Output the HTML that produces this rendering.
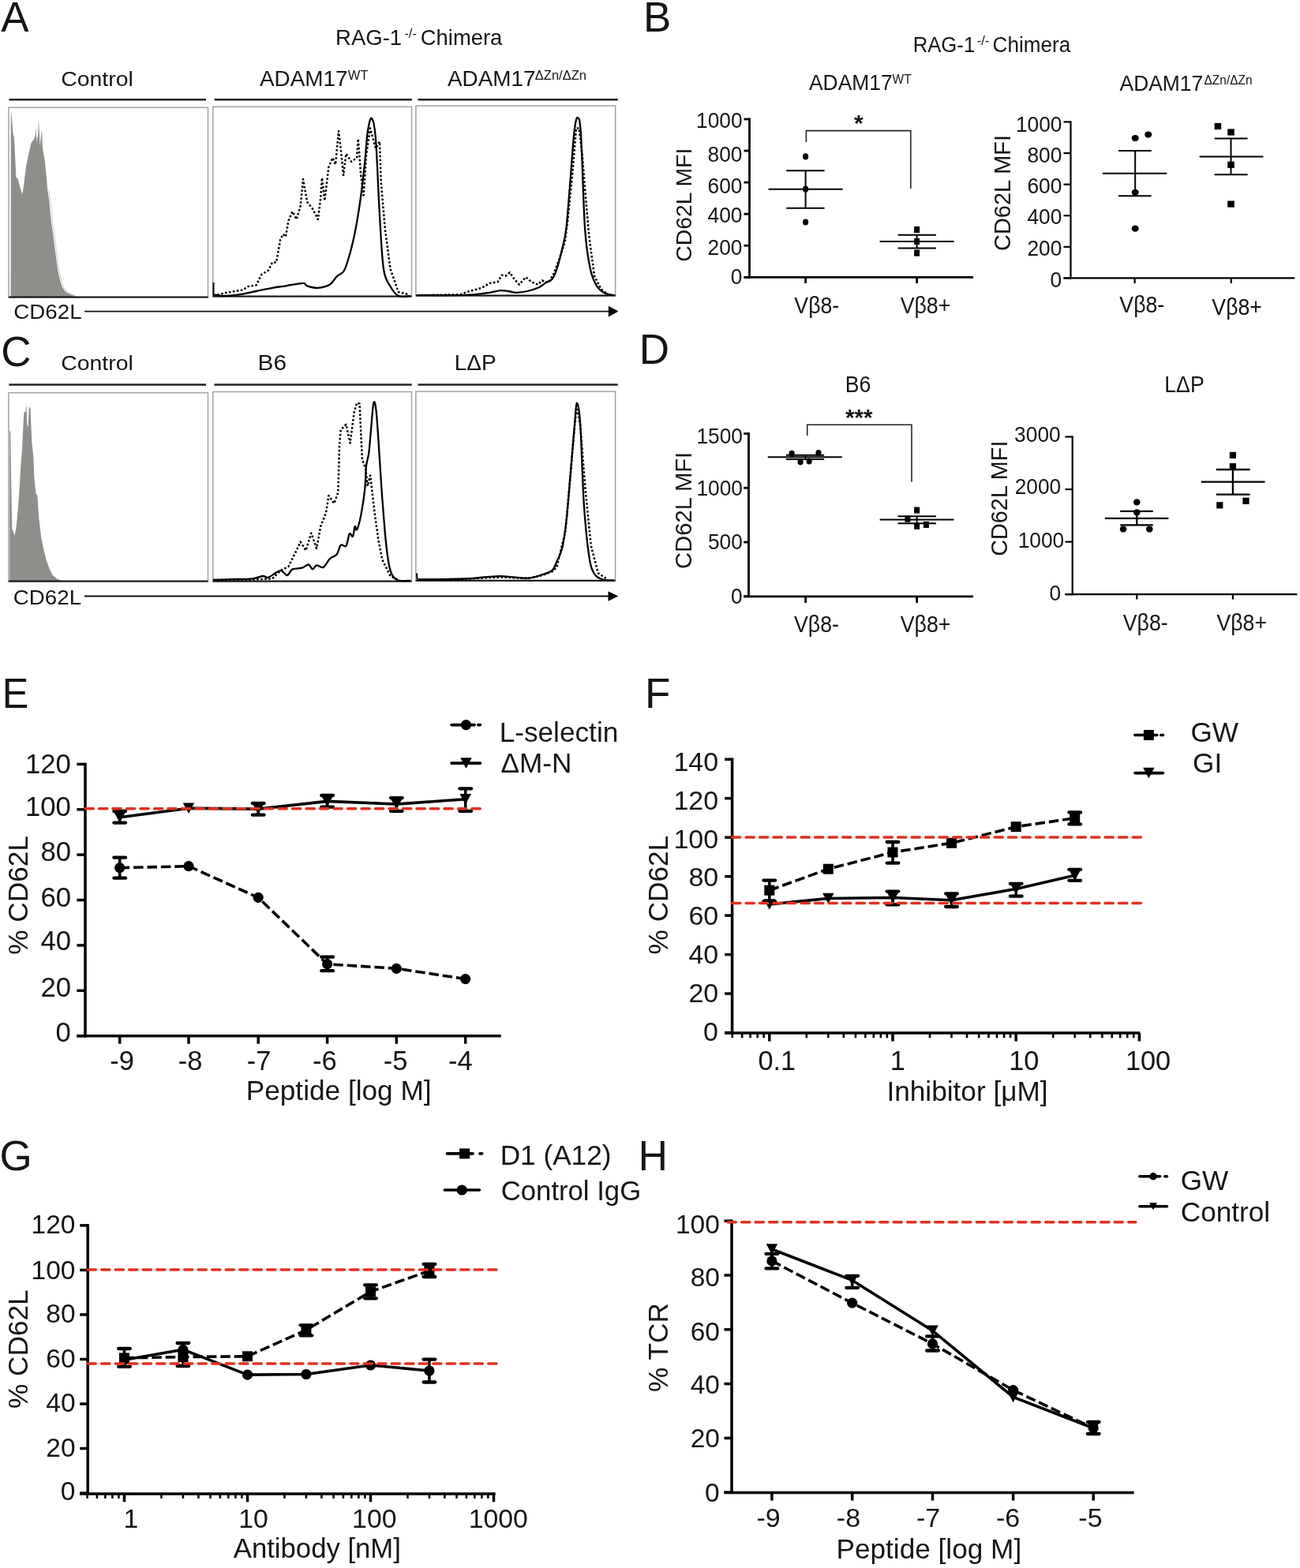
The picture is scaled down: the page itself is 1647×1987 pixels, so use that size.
<!DOCTYPE html>
<html><head><meta charset="utf-8"><title>Figure</title>
<style>html,body{margin:0;padding:0;background:#fff;}svg{display:block;}</style></head>
<body><svg width="1647" height="1987" viewBox="0 0 1647 1987" font-family="'Liberation Sans', Arial, sans-serif">
<rect width="1647" height="1987" fill="#fff"/>
<line x1="11.40" y1="126.20" x2="261.00" y2="126.20" stroke="#222" stroke-width="2.4" />
<line x1="271.70" y1="126.20" x2="521.70" y2="126.20" stroke="#222" stroke-width="2.4" />
<line x1="529.50" y1="126.20" x2="782.80" y2="126.20" stroke="#222" stroke-width="2.4" />
<line x1="11.40" y1="487.50" x2="261.00" y2="487.50" stroke="#222" stroke-width="2.4" />
<line x1="271.50" y1="487.50" x2="521.70" y2="487.50" stroke="#222" stroke-width="2.4" />
<line x1="529.50" y1="487.50" x2="782.80" y2="487.50" stroke="#222" stroke-width="2.4" />
<polygon points="13.6,377 13.8,150 14.3,141 16.5,169 17.9,174.5 20.5,224.9 22.5,226 25,236 28.3,246.5 30.3,233.4 32.9,211.8 36.2,195.4 39.5,181 42.7,177 44.6,172 45.3,161.4 46.5,180 48.2,170 48.9,150.3 50.0,172 50.6,185.6 52.5,168 53.2,166.6 53.8,185.6 55.8,198.7 56.6,202 58.7,222 60.2,240.4 62.1,252 64.0,271.2 65.3,284 67.3,296.9 69.2,312.3 71.1,326.4 73.0,340.5 75.0,350.8 76.9,358.5 79.5,364.9 83.3,370 88.4,372.6 93.6,374.5 96,376.8" fill="#8d8f8b"/>
<polyline points="61.8,240.4 63.7,252 65.6,271.2 66.9,284 68.9,296.9 70.8,312.3 72.7,326.4 74.6,340.5 76.6,350.8 78.5,358.5 81.1,364.9 84.9,370 90.0,372.6 95.2,374.5 97.6,376.8" fill="none" stroke="#d2d2d2" stroke-width="1.1"/>
<polygon points="12.1,737 12.1,546.5 13.3,546.5 14.0,600 15.3,669.7 18.5,678.7 20.4,669.7 22.3,650.5 24.3,624.8 26.2,592.7 28.1,567 30,528.5 30.7,522 32.6,522 33.5,511.2 34.5,541.3 35.8,538.8 36.8,515.7 38.6,517 40.3,560.6 42.2,577.3 43.5,605.5 45.4,624.8 47.4,628.6 49.3,656.9 52.5,682.6 55.7,698 58.9,710.8 62.8,721 66.6,728.8 71.8,733.3 76.9,735.5 78,737" fill="#8d8f8b"/>
<rect x="11.00" y="136.20" width="252.50" height="240.80" fill="none" stroke="#a3a3a3" stroke-width="1.5"/>
<line x1="11.00" y1="376.50" x2="263.50" y2="376.50" stroke="#111" stroke-width="2.0" />
<rect x="269.70" y="135.30" width="251.80" height="240.60" fill="none" stroke="#a3a3a3" stroke-width="1.5"/>
<line x1="269.70" y1="375.40" x2="521.50" y2="375.40" stroke="#111" stroke-width="2.0" />
<rect x="526.90" y="134.10" width="252.80" height="240.90" fill="none" stroke="#a3a3a3" stroke-width="1.5"/>
<line x1="526.90" y1="374.60" x2="779.70" y2="374.60" stroke="#111" stroke-width="2.0" />
<rect x="10.90" y="497.70" width="252.60" height="239.30" fill="none" stroke="#a3a3a3" stroke-width="1.5"/>
<line x1="10.90" y1="736.50" x2="263.50" y2="736.50" stroke="#111" stroke-width="2.0" />
<rect x="269.70" y="496.50" width="251.80" height="240.50" fill="none" stroke="#a3a3a3" stroke-width="1.5"/>
<line x1="269.70" y1="736.50" x2="521.50" y2="736.50" stroke="#111" stroke-width="2.0" />
<rect x="526.80" y="496.10" width="252.80" height="240.10" fill="none" stroke="#a3a3a3" stroke-width="1.5"/>
<line x1="526.80" y1="735.80" x2="779.60" y2="735.80" stroke="#111" stroke-width="2.0" />
<polyline points="270.50,375.00 287.00,370.80 307.60,367.40 314.40,363.00 324.60,361.40 331.40,347.80 340.00,342.70 345.00,332.50 350.00,332.50 355.20,303.60 358.60,296.80 362.00,300.00 365.40,279.80 370.50,268.00 375.60,278.00 380.70,261.00 384.00,227.00 389.20,256.00 396.00,264.50 402.80,278.00 406.20,251.00 408.00,225.40 411.30,254.30 416.40,211.80 421.50,200.00 425.00,208.40 429.00,166.00 431.70,188.00 435.10,222.00 438.50,194.80 445.30,205.00 452.00,200.00 453.80,176.00 457.20,222.00 460.60,247.50 464.00,196.50 469.00,162.50 476.00,188.00 481.00,179.50 482.70,230.50 487.80,290.00 494.60,341.00 504.80,370.00 518.40,373.30" fill="none" stroke="#000" stroke-width="2.5" stroke-linejoin="round" stroke-dasharray="2.6 2.4"/>
<line x1="270.50" y1="358.00" x2="270.50" y2="374.00" stroke="#000" stroke-width="2.0" />
<path d="M270.50,373.30 C272.42,373.58 276.67,375.00 282.00,375.00 C287.33,375.00 295.40,374.30 302.50,373.30 C309.60,372.30 317.52,370.42 324.60,369.00 C331.68,367.58 338.77,365.92 345.00,364.80 C351.23,363.68 355.50,363.28 362.00,362.30 C368.50,361.32 379.50,358.90 384.00,358.90 C388.50,358.90 385.87,361.32 389.00,362.30 C392.13,363.28 397.97,365.08 402.80,364.80 C407.63,364.52 414.03,363.00 418.00,360.60 C421.97,358.20 423.77,353.10 426.60,350.40 C429.43,347.70 432.77,347.38 435.00,344.40 C437.23,341.42 438.00,338.73 440.00,332.50 C442.00,326.27 444.83,316.35 447.00,307.00 C449.17,297.65 451.17,287.17 453.00,276.40 C454.83,265.63 456.45,254.30 458.00,242.40 C459.55,230.50 461.02,217.47 462.30,205.00 C463.58,192.53 464.28,176.80 465.70,167.60 C467.12,158.40 469.08,148.40 470.80,149.80 C472.52,151.20 474.30,155.47 476.00,176.00 C477.70,196.53 479.33,245.50 481.00,273.00 C482.67,300.50 483.73,326.00 486.00,341.00 C488.27,356.00 491.47,357.33 494.60,363.00 C497.73,368.67 500.57,373.00 504.80,375.00 C509.03,377.00 517.47,375.00 520.00,375.00" fill="none" stroke="#000" stroke-width="2.3" stroke-linejoin="round" />
<polyline points="527.80,374.20 583.00,373.30 591.50,370.00 610.20,364.80 620.40,358.90 630.60,357.20 635.70,348.70 640.80,349.50 645.90,345.30 651.00,352.90 657.80,360.60 666.30,351.20 673.10,357.20 681.60,360.60 686.70,355.50 695.20,358.00 702.00,346.00 708.80,327.40 715.60,307.00 719.00,281.50 725.80,213.50 730.00,162.50 733.50,162.50 737.70,196.50 741.10,239.00 746.20,298.50 753.00,349.50 761.50,366.50 770.00,373.30" fill="none" stroke="#000" stroke-width="2.5" stroke-linejoin="round" stroke-dasharray="2.6 2.4"/>
<path d="M527.80,374.20 C535.58,374.20 562.47,374.35 574.50,374.20 C586.53,374.05 592.35,373.87 600.00,373.30 C607.65,372.73 614.73,371.65 620.40,370.80 C626.07,369.95 630.03,368.50 634.00,368.20 C637.97,367.90 640.80,368.57 644.20,369.00 C647.60,369.43 650.43,370.80 654.40,370.80 C658.37,370.80 663.18,370.13 668.00,369.00 C672.82,367.87 679.33,365.83 683.30,364.00 C687.27,362.17 689.10,359.70 691.80,358.00 C694.50,356.30 697.23,356.63 699.50,353.80 C701.77,350.97 703.28,347.38 705.40,341.00 C707.52,334.62 710.22,324.00 712.20,315.50 C714.18,307.00 715.60,304.17 717.30,290.00 C719.00,275.83 720.70,250.90 722.40,230.50 C724.10,210.10 725.93,181.18 727.50,167.60 C729.07,154.02 730.38,148.43 731.80,149.00 C733.22,149.57 734.45,147.50 736.00,171.00 C737.55,194.50 739.12,261.67 741.10,290.00 C743.08,318.33 745.35,328.83 747.90,341.00 C750.45,353.17 753.28,357.90 756.40,363.00 C759.52,368.10 762.92,369.73 766.60,371.60 C770.28,373.47 776.52,373.77 778.50,374.20" fill="none" stroke="#000" stroke-width="2.3" stroke-linejoin="round" />
<polyline points="270.20,735.00 311.00,735.00 345.00,733.30 355.20,723.10 365.40,718.00 375.60,697.60 380.70,686.60 387.50,697.60 394.30,675.50 401.10,695.00 406.20,667.00 413.00,650.00 416.40,628.00 423.20,638.00 428.30,624.50 430.00,565.00 431.70,544.60 438.50,537.80 443.60,561.60 448.70,522.50 452.10,510.60 455.50,511.50 458.90,582.00 463.20,594.00 465.70,616.00 469.10,602.40 474.20,646.60 479.30,684.00 484.40,709.50 494.60,730.00 504.80,735.00" fill="none" stroke="#000" stroke-width="2.5" stroke-linejoin="round" stroke-dasharray="2.6 2.4"/>
<path d="M270.20,735.00 C273.60,734.87 282.38,734.48 290.60,734.20 C298.82,733.92 312.42,734.00 319.50,733.30 C326.58,732.60 329.70,730.28 333.10,730.00 C336.50,729.72 336.22,732.75 339.90,731.60 C343.58,730.45 351.23,723.52 355.20,723.10 C359.17,722.68 361.15,729.38 363.70,729.10 C366.25,728.82 367.38,722.97 370.50,721.40 C373.62,719.83 379.00,720.68 382.40,719.70 C385.80,718.72 388.63,715.22 390.90,715.50 C393.17,715.78 394.30,721.27 396.00,721.40 C397.70,721.53 398.83,716.72 401.10,716.30 C403.37,715.88 406.77,720.32 409.60,718.90 C412.43,717.48 415.27,710.50 418.10,707.80 C420.93,705.10 424.33,705.53 426.60,702.70 C428.87,699.87 429.72,692.63 431.70,690.80 C433.68,688.97 436.65,694.10 438.50,691.70 C440.35,689.30 441.38,678.38 442.80,676.40 C444.22,674.42 445.87,681.37 447.00,679.80 C448.13,678.23 448.75,668.42 449.60,667.00 C450.45,665.58 450.83,673.57 452.10,671.30 C453.37,669.03 455.50,662.05 457.20,653.40 C458.90,644.75 461.17,629.88 462.30,619.40 C463.43,608.92 463.15,598.15 464.00,590.50 C464.85,582.85 466.40,581.15 467.40,573.50 C468.40,565.85 469.00,555.08 470.00,544.60 C471.00,534.12 472.27,514.28 473.40,510.60 C474.53,506.92 475.53,510.60 476.80,522.50 C478.07,534.40 479.73,563.58 481.00,582.00 C482.27,600.42 482.98,614.58 484.40,633.00 C485.82,651.42 487.80,677.48 489.50,692.50 C491.20,707.52 492.33,716.02 494.60,723.10 C496.87,730.18 498.85,732.87 503.10,735.00 C507.35,737.13 517.27,735.75 520.10,735.90" fill="none" stroke="#000" stroke-width="2.3" stroke-linejoin="round" />
<polyline points="529.50,734.40 587.50,734.00 620.10,732.00 638.20,731.50 669.00,733.00 687.20,729.00 699.90,724.00 705.30,719.00 716.20,673.70 723.40,595.00 728.00,540.00 731.00,514.00 735.20,540.00 741.50,619.30 748.80,691.80 757.80,726.30 770.00,734.40" fill="none" stroke="#000" stroke-width="2.5" stroke-linejoin="round" stroke-dasharray="2.6 2.4"/>
<line x1="527.90" y1="726.30" x2="528.60" y2="734.40" stroke="#000" stroke-width="2.0" />
<path d="M529.50,734.40 C539.17,734.25 572.40,734.10 587.50,733.50 C602.60,732.90 611.65,731.33 620.10,730.80 C628.55,730.27 630.05,730.00 638.20,730.30 C646.35,730.60 660.83,732.97 669.00,732.60 C677.17,732.23 682.05,729.77 687.20,728.10 C692.35,726.43 696.88,725.32 699.90,722.60 C702.92,719.88 703.20,716.63 705.30,711.80 C707.40,706.97 710.38,702.97 712.50,693.60 C714.62,684.23 716.18,672.50 718.00,655.60 C719.82,638.70 721.73,611.83 723.40,592.20 C725.07,572.57 726.73,551.40 728.00,537.80 C729.27,524.20 729.80,510.60 731.00,510.60 C732.20,510.60 733.75,516.65 735.20,537.80 C736.65,558.95 737.90,610.02 739.70,637.50 C741.50,664.98 743.88,687.90 746.00,702.70 C748.12,717.50 749.52,721.02 752.40,726.30 C755.28,731.58 759.07,732.90 763.30,734.40 C767.53,735.90 775.38,735.15 777.80,735.30" fill="none" stroke="#000" stroke-width="2.3" stroke-linejoin="round" />
<line x1="107.00" y1="394.60" x2="772.00" y2="394.60" stroke="#111" stroke-width="1.8" />
<polygon points="770.9,387.8 783.6,394.6 770.9,401.4" fill="#000"/>
<line x1="107.00" y1="755.50" x2="771.50" y2="755.50" stroke="#111" stroke-width="1.8" />
<polygon points="770.5,749.2 783.2,755.5 770.5,761.8" fill="#000"/>
<line x1="949.50" y1="149.60" x2="949.50" y2="352.70" stroke="#000" stroke-width="2.8" />
<line x1="942.50" y1="351.30" x2="1233.00" y2="351.30" stroke="#000" stroke-width="2.8" />
<line x1="942.50" y1="351.30" x2="949.50" y2="351.30" stroke="#000" stroke-width="2.8" />
<line x1="942.50" y1="311.24" x2="949.50" y2="311.24" stroke="#000" stroke-width="2.8" />
<line x1="942.50" y1="271.18" x2="949.50" y2="271.18" stroke="#000" stroke-width="2.8" />
<line x1="942.50" y1="231.12" x2="949.50" y2="231.12" stroke="#000" stroke-width="2.8" />
<line x1="942.50" y1="191.06" x2="949.50" y2="191.06" stroke="#000" stroke-width="2.8" />
<line x1="942.50" y1="151.00" x2="949.50" y2="151.00" stroke="#000" stroke-width="2.8" />
<line x1="1020.60" y1="351.30" x2="1020.60" y2="359.00" stroke="#000" stroke-width="2.8" />
<line x1="1161.60" y1="351.30" x2="1161.60" y2="359.00" stroke="#000" stroke-width="2.8" />
<ellipse cx="1020.60" cy="198.40" rx="3.6" ry="4.1" fill="#000"/>
<ellipse cx="1020.60" cy="239.70" rx="3.6" ry="4.1" fill="#000"/>
<ellipse cx="1020.60" cy="281.50" rx="3.6" ry="4.1" fill="#000"/>
<line x1="973.60" y1="239.70" x2="1067.60" y2="239.70" stroke="#000" stroke-width="2.0" />
<line x1="996.30" y1="216.20" x2="1044.60" y2="216.20" stroke="#000" stroke-width="2.0" />
<line x1="996.30" y1="263.70" x2="1044.60" y2="263.70" stroke="#000" stroke-width="2.0" />
<line x1="1020.60" y1="216.20" x2="1020.60" y2="263.70" stroke="#000" stroke-width="2.0" />
<rect x="1158.10" y="286.90" width="7.0" height="8.2" fill="#000"/>
<rect x="1158.10" y="301.90" width="7.0" height="8.2" fill="#000"/>
<rect x="1158.10" y="316.50" width="7.0" height="8.2" fill="#000"/>
<line x1="1114.60" y1="306.00" x2="1208.60" y2="306.00" stroke="#000" stroke-width="2.0" />
<line x1="1137.60" y1="297.70" x2="1185.90" y2="297.70" stroke="#000" stroke-width="2.0" />
<line x1="1137.60" y1="314.60" x2="1185.90" y2="314.60" stroke="#000" stroke-width="2.0" />
<line x1="1161.60" y1="297.70" x2="1161.60" y2="314.60" stroke="#000" stroke-width="2.0" />
<polyline points="1021.40,180.00 1021.40,165.60 1153.80,165.60 1153.80,239.00" fill="none" stroke="#222" stroke-width="1.6" stroke-linejoin="round" />
<line x1="1356.50" y1="153.40" x2="1356.50" y2="353.50" stroke="#000" stroke-width="2.2" />
<line x1="1347.50" y1="352.40" x2="1640.30" y2="352.40" stroke="#000" stroke-width="2.2" />
<line x1="1347.50" y1="352.40" x2="1356.50" y2="352.40" stroke="#000" stroke-width="2.2" />
<line x1="1347.50" y1="312.82" x2="1356.50" y2="312.82" stroke="#000" stroke-width="2.2" />
<line x1="1347.50" y1="273.24" x2="1356.50" y2="273.24" stroke="#000" stroke-width="2.2" />
<line x1="1347.50" y1="233.66" x2="1356.50" y2="233.66" stroke="#000" stroke-width="2.2" />
<line x1="1347.50" y1="194.08" x2="1356.50" y2="194.08" stroke="#000" stroke-width="2.2" />
<line x1="1347.50" y1="154.50" x2="1356.50" y2="154.50" stroke="#000" stroke-width="2.2" />
<line x1="1437.60" y1="352.40" x2="1437.60" y2="359.00" stroke="#000" stroke-width="2.2" />
<line x1="1559.80" y1="352.40" x2="1559.80" y2="359.00" stroke="#000" stroke-width="2.2" />
<ellipse cx="1438.20" cy="175.00" rx="4.5" ry="4.1" fill="#000"/>
<ellipse cx="1454.80" cy="170.50" rx="4.5" ry="4.1" fill="#000"/>
<ellipse cx="1438.20" cy="243.80" rx="4.5" ry="4.1" fill="#000"/>
<ellipse cx="1438.20" cy="289.70" rx="4.5" ry="4.1" fill="#000"/>
<line x1="1396.80" y1="219.70" x2="1478.30" y2="219.70" stroke="#000" stroke-width="2.0" />
<line x1="1417.00" y1="191.00" x2="1458.70" y2="191.00" stroke="#000" stroke-width="2.0" />
<line x1="1417.00" y1="248.30" x2="1458.70" y2="248.30" stroke="#000" stroke-width="2.0" />
<line x1="1438.20" y1="191.00" x2="1438.20" y2="248.30" stroke="#000" stroke-width="2.0" />
<rect x="1538.60" y="155.90" width="8.6" height="8.2" fill="#000"/>
<rect x="1555.20" y="163.40" width="8.6" height="8.2" fill="#000"/>
<rect x="1555.20" y="204.70" width="8.6" height="8.2" fill="#000"/>
<rect x="1555.20" y="254.50" width="8.6" height="8.2" fill="#000"/>
<line x1="1519.60" y1="198.50" x2="1600.50" y2="198.50" stroke="#000" stroke-width="2.0" />
<line x1="1538.70" y1="175.60" x2="1580.60" y2="175.60" stroke="#000" stroke-width="2.0" />
<line x1="1538.70" y1="221.20" x2="1580.60" y2="221.20" stroke="#000" stroke-width="2.0" />
<line x1="1559.50" y1="175.60" x2="1559.50" y2="221.20" stroke="#000" stroke-width="2.0" />
<line x1="948.50" y1="548.10" x2="948.50" y2="757.20" stroke="#000" stroke-width="2.8" />
<line x1="942.20" y1="755.80" x2="1233.00" y2="755.80" stroke="#000" stroke-width="2.8" />
<line x1="942.20" y1="755.80" x2="948.50" y2="755.80" stroke="#000" stroke-width="2.8" />
<line x1="942.20" y1="687.03" x2="948.50" y2="687.03" stroke="#000" stroke-width="2.8" />
<line x1="942.20" y1="618.27" x2="948.50" y2="618.27" stroke="#000" stroke-width="2.8" />
<line x1="942.20" y1="549.50" x2="948.50" y2="549.50" stroke="#000" stroke-width="2.8" />
<line x1="1020.60" y1="755.80" x2="1020.60" y2="764.00" stroke="#000" stroke-width="2.8" />
<line x1="1161.60" y1="755.80" x2="1161.60" y2="764.00" stroke="#000" stroke-width="2.8" />
<ellipse cx="1003.10" cy="574.80" rx="3.6" ry="4.1" fill="#000"/>
<ellipse cx="1037.00" cy="574.00" rx="3.6" ry="4.1" fill="#000"/>
<ellipse cx="1014.10" cy="585.30" rx="3.6" ry="4.1" fill="#000"/>
<ellipse cx="1025.10" cy="584.50" rx="3.6" ry="4.1" fill="#000"/>
<line x1="972.80" y1="579.30" x2="1066.80" y2="579.30" stroke="#000" stroke-width="2.0" />
<line x1="995.80" y1="576.70" x2="1044.10" y2="576.70" stroke="#000" stroke-width="2.0" />
<line x1="995.80" y1="581.90" x2="1044.10" y2="581.90" stroke="#000" stroke-width="2.0" />
<line x1="1020.60" y1="576.70" x2="1020.60" y2="581.90" stroke="#000" stroke-width="2.0" />
<rect x="1158.10" y="642.50" width="7.0" height="8.2" fill="#000"/>
<rect x="1146.40" y="653.50" width="7.0" height="8.2" fill="#000"/>
<rect x="1158.10" y="662.60" width="7.0" height="8.2" fill="#000"/>
<rect x="1169.90" y="660.80" width="7.0" height="8.2" fill="#000"/>
<line x1="1114.60" y1="658.40" x2="1208.60" y2="658.40" stroke="#000" stroke-width="2.0" />
<line x1="1137.60" y1="654.20" x2="1185.90" y2="654.20" stroke="#000" stroke-width="2.0" />
<line x1="1137.60" y1="663.30" x2="1185.90" y2="663.30" stroke="#000" stroke-width="2.0" />
<line x1="1161.60" y1="654.20" x2="1161.60" y2="663.30" stroke="#000" stroke-width="2.0" />
<polyline points="1022.70,551.90 1022.70,538.20 1155.00,538.20 1155.00,610.60" fill="none" stroke="#222" stroke-width="1.6" stroke-linejoin="round" />
<line x1="1358.70" y1="552.40" x2="1358.70" y2="754.30" stroke="#000" stroke-width="2.2" />
<line x1="1349.50" y1="753.20" x2="1643.40" y2="753.20" stroke="#000" stroke-width="2.2" />
<line x1="1349.50" y1="753.20" x2="1358.70" y2="753.20" stroke="#000" stroke-width="2.2" />
<line x1="1349.50" y1="686.63" x2="1358.70" y2="686.63" stroke="#000" stroke-width="2.2" />
<line x1="1349.50" y1="620.07" x2="1358.70" y2="620.07" stroke="#000" stroke-width="2.2" />
<line x1="1349.50" y1="553.50" x2="1358.70" y2="553.50" stroke="#000" stroke-width="2.2" />
<line x1="1440.30" y1="753.20" x2="1440.30" y2="759.50" stroke="#000" stroke-width="2.2" />
<line x1="1561.90" y1="753.20" x2="1561.90" y2="759.50" stroke="#000" stroke-width="2.2" />
<ellipse cx="1440.30" cy="636.40" rx="4.3" ry="4.1" fill="#000"/>
<ellipse cx="1440.30" cy="649.30" rx="4.3" ry="4.1" fill="#000"/>
<ellipse cx="1423.10" cy="670.50" rx="4.3" ry="4.1" fill="#000"/>
<ellipse cx="1456.30" cy="670.50" rx="4.3" ry="4.1" fill="#000"/>
<line x1="1399.80" y1="656.90" x2="1480.40" y2="656.90" stroke="#000" stroke-width="2.3" />
<line x1="1419.20" y1="647.80" x2="1460.80" y2="647.80" stroke="#000" stroke-width="2.3" />
<line x1="1419.20" y1="665.30" x2="1460.80" y2="665.30" stroke="#000" stroke-width="2.3" />
<line x1="1440.30" y1="647.80" x2="1440.30" y2="665.30" stroke="#000" stroke-width="2.3" />
<rect x="1557.80" y="572.80" width="8.2" height="8.2" fill="#000"/>
<rect x="1557.80" y="587.00" width="8.2" height="8.2" fill="#000"/>
<rect x="1541.20" y="636.20" width="8.2" height="8.2" fill="#000"/>
<rect x="1574.40" y="630.70" width="8.2" height="8.2" fill="#000"/>
<line x1="1521.80" y1="610.70" x2="1602.60" y2="610.70" stroke="#000" stroke-width="2.3" />
<line x1="1540.80" y1="595.00" x2="1583.60" y2="595.00" stroke="#000" stroke-width="2.3" />
<line x1="1540.80" y1="626.70" x2="1583.60" y2="626.70" stroke="#000" stroke-width="2.3" />
<line x1="1561.90" y1="595.00" x2="1561.90" y2="626.70" stroke="#000" stroke-width="2.3" />
<line x1="108.00" y1="966.65" x2="108.00" y2="1314.45" stroke="#000" stroke-width="3.5" />
<line x1="97.40" y1="1312.70" x2="108.00" y2="1312.70" stroke="#000" stroke-width="3.5" />
<line x1="97.40" y1="1255.32" x2="108.00" y2="1255.32" stroke="#000" stroke-width="3.5" />
<line x1="97.40" y1="1197.93" x2="108.00" y2="1197.93" stroke="#000" stroke-width="3.5" />
<line x1="97.40" y1="1140.55" x2="108.00" y2="1140.55" stroke="#000" stroke-width="3.5" />
<line x1="97.40" y1="1083.16" x2="108.00" y2="1083.16" stroke="#000" stroke-width="3.5" />
<line x1="97.40" y1="1025.78" x2="108.00" y2="1025.78" stroke="#000" stroke-width="3.5" />
<line x1="97.40" y1="968.40" x2="108.00" y2="968.40" stroke="#000" stroke-width="3.5" />
<line x1="97.40" y1="1312.70" x2="634.70" y2="1312.70" stroke="#000" stroke-width="3.5" />
<line x1="151.70" y1="1312.70" x2="151.70" y2="1322.70" stroke="#000" stroke-width="3.5" />
<line x1="239.00" y1="1312.70" x2="239.00" y2="1322.70" stroke="#000" stroke-width="3.5" />
<line x1="327.20" y1="1312.70" x2="327.20" y2="1322.70" stroke="#000" stroke-width="3.5" />
<line x1="414.60" y1="1312.70" x2="414.60" y2="1322.70" stroke="#000" stroke-width="3.5" />
<line x1="502.30" y1="1312.70" x2="502.30" y2="1322.70" stroke="#000" stroke-width="3.5" />
<line x1="589.70" y1="1312.70" x2="589.70" y2="1322.70" stroke="#000" stroke-width="3.5" />
<polyline points="151.70,1099.70 239.00,1097.70 327.20,1137.40 414.60,1221.70 502.30,1227.30 589.70,1240.60" fill="none" stroke="#000" stroke-width="3.6" stroke-linejoin="round" stroke-dasharray="12.5 4.9"/>
<line x1="151.70" y1="1086.70" x2="151.70" y2="1112.70" stroke="#000" stroke-width="3.6" />
<line x1="144.35" y1="1086.70" x2="159.05" y2="1086.70" stroke="#000" stroke-width="4.3" stroke-linecap="round"/>
<line x1="144.35" y1="1112.70" x2="159.05" y2="1112.70" stroke="#000" stroke-width="4.3" stroke-linecap="round"/>
<line x1="414.60" y1="1212.70" x2="414.60" y2="1230.20" stroke="#000" stroke-width="3.6" />
<line x1="407.25" y1="1212.70" x2="421.95" y2="1212.70" stroke="#000" stroke-width="4.3" stroke-linecap="round"/>
<line x1="407.25" y1="1230.20" x2="421.95" y2="1230.20" stroke="#000" stroke-width="4.3" stroke-linecap="round"/>
<circle cx="151.70" cy="1099.70" r="6.6" fill="#000"/>
<circle cx="239.00" cy="1097.70" r="6.6" fill="#000"/>
<circle cx="327.20" cy="1137.40" r="6.6" fill="#000"/>
<circle cx="414.60" cy="1221.70" r="6.6" fill="#000"/>
<circle cx="502.30" cy="1227.30" r="6.6" fill="#000"/>
<circle cx="589.70" cy="1240.60" r="6.6" fill="#000"/>
<polyline points="151.70,1035.80 239.00,1024.20 327.20,1025.10 414.60,1015.40 502.30,1019.00 589.70,1012.70" fill="none" stroke="#000" stroke-width="3.6" stroke-linejoin="round" />
<line x1="151.70" y1="1028.00" x2="151.70" y2="1042.60" stroke="#000" stroke-width="3.6" />
<line x1="144.35" y1="1028.00" x2="159.05" y2="1028.00" stroke="#000" stroke-width="4.3" stroke-linecap="round"/>
<line x1="144.35" y1="1042.60" x2="159.05" y2="1042.60" stroke="#000" stroke-width="4.3" stroke-linecap="round"/>
<line x1="327.20" y1="1018.00" x2="327.20" y2="1032.70" stroke="#000" stroke-width="3.6" />
<line x1="319.85" y1="1018.00" x2="334.55" y2="1018.00" stroke="#000" stroke-width="4.3" stroke-linecap="round"/>
<line x1="319.85" y1="1032.70" x2="334.55" y2="1032.70" stroke="#000" stroke-width="4.3" stroke-linecap="round"/>
<line x1="414.60" y1="1008.00" x2="414.60" y2="1022.70" stroke="#000" stroke-width="3.6" />
<line x1="407.25" y1="1008.00" x2="421.95" y2="1008.00" stroke="#000" stroke-width="4.3" stroke-linecap="round"/>
<line x1="407.25" y1="1022.70" x2="421.95" y2="1022.70" stroke="#000" stroke-width="4.3" stroke-linecap="round"/>
<line x1="502.30" y1="1011.10" x2="502.30" y2="1027.80" stroke="#000" stroke-width="3.6" />
<line x1="494.95" y1="1011.10" x2="509.65" y2="1011.10" stroke="#000" stroke-width="4.3" stroke-linecap="round"/>
<line x1="494.95" y1="1027.80" x2="509.65" y2="1027.80" stroke="#000" stroke-width="4.3" stroke-linecap="round"/>
<line x1="589.70" y1="999.30" x2="589.70" y2="1027.80" stroke="#000" stroke-width="3.6" />
<line x1="582.35" y1="999.30" x2="597.05" y2="999.30" stroke="#000" stroke-width="4.3" stroke-linecap="round"/>
<line x1="582.35" y1="1027.80" x2="597.05" y2="1027.80" stroke="#000" stroke-width="4.3" stroke-linecap="round"/>
<polygon points="144.45,1029.05 158.95,1029.05 151.70,1042.55" fill="#000"/>
<polygon points="231.75,1017.45 246.25,1017.45 239.00,1030.95" fill="#000"/>
<polygon points="319.95,1018.35 334.45,1018.35 327.20,1031.85" fill="#000"/>
<polygon points="407.35,1008.65 421.85,1008.65 414.60,1022.15" fill="#000"/>
<polygon points="495.05,1012.25 509.55,1012.25 502.30,1025.75" fill="#000"/>
<polygon points="582.45,1005.95 596.95,1005.95 589.70,1019.45" fill="#000"/>
<line x1="108.00" y1="1024.80" x2="610.30" y2="1024.80" stroke="#e2301f" stroke-width="3.5" stroke-linecap="round" stroke-dasharray="10.2 7.3"/>
<line x1="572.00" y1="918.60" x2="590.50" y2="918.60" stroke="#000" stroke-width="3.6" stroke-linecap="round"/>
<line x1="590.50" y1="918.60" x2="601.10" y2="918.60" stroke="#000" stroke-width="3.6" stroke-linecap="round"/>
<line x1="605.80" y1="918.60" x2="608.50" y2="918.60" stroke="#000" stroke-width="3.6" stroke-linecap="round"/>
<circle cx="590.50" cy="918.60" r="6.6" fill="#000"/>
<line x1="572.00" y1="967.10" x2="608.50" y2="967.10" stroke="#000" stroke-width="3.6" stroke-linecap="round"/>
<polygon points="583.25,960.35 597.75,960.35 590.50,973.85" fill="#000"/>
<line x1="927.60" y1="960.45" x2="927.60" y2="1310.35" stroke="#000" stroke-width="3.5" />
<line x1="918.20" y1="1308.60" x2="927.60" y2="1308.60" stroke="#000" stroke-width="3.5" />
<line x1="918.20" y1="1259.11" x2="927.60" y2="1259.11" stroke="#000" stroke-width="3.5" />
<line x1="918.20" y1="1209.63" x2="927.60" y2="1209.63" stroke="#000" stroke-width="3.5" />
<line x1="918.20" y1="1160.14" x2="927.60" y2="1160.14" stroke="#000" stroke-width="3.5" />
<line x1="918.20" y1="1110.66" x2="927.60" y2="1110.66" stroke="#000" stroke-width="3.5" />
<line x1="918.20" y1="1061.17" x2="927.60" y2="1061.17" stroke="#000" stroke-width="3.5" />
<line x1="918.20" y1="1011.68" x2="927.60" y2="1011.68" stroke="#000" stroke-width="3.5" />
<line x1="918.20" y1="962.20" x2="927.60" y2="962.20" stroke="#000" stroke-width="3.5" />
<line x1="918.20" y1="1308.90" x2="1444.20" y2="1308.90" stroke="#000" stroke-width="3.5" />
<line x1="927.78" y1="1308.90" x2="927.78" y2="1315.30" stroke="#000" stroke-width="2.6" />
<line x1="940.15" y1="1308.90" x2="940.15" y2="1315.30" stroke="#000" stroke-width="2.6" />
<line x1="950.60" y1="1308.90" x2="950.60" y2="1315.30" stroke="#000" stroke-width="2.6" />
<line x1="959.66" y1="1308.90" x2="959.66" y2="1315.30" stroke="#000" stroke-width="2.6" />
<line x1="967.65" y1="1308.90" x2="967.65" y2="1315.30" stroke="#000" stroke-width="2.6" />
<line x1="974.80" y1="1308.90" x2="974.80" y2="1319.50" stroke="#000" stroke-width="3.5" />
<line x1="1021.82" y1="1308.90" x2="1021.82" y2="1315.30" stroke="#000" stroke-width="2.6" />
<line x1="1049.33" y1="1308.90" x2="1049.33" y2="1315.30" stroke="#000" stroke-width="2.6" />
<line x1="1068.84" y1="1308.90" x2="1068.84" y2="1315.30" stroke="#000" stroke-width="2.6" />
<line x1="1083.98" y1="1308.90" x2="1083.98" y2="1315.30" stroke="#000" stroke-width="2.6" />
<line x1="1096.35" y1="1308.90" x2="1096.35" y2="1315.30" stroke="#000" stroke-width="2.6" />
<line x1="1106.80" y1="1308.90" x2="1106.80" y2="1315.30" stroke="#000" stroke-width="2.6" />
<line x1="1115.86" y1="1308.90" x2="1115.86" y2="1315.30" stroke="#000" stroke-width="2.6" />
<line x1="1123.85" y1="1308.90" x2="1123.85" y2="1315.30" stroke="#000" stroke-width="2.6" />
<line x1="1131.00" y1="1308.90" x2="1131.00" y2="1319.50" stroke="#000" stroke-width="3.5" />
<line x1="1178.02" y1="1308.90" x2="1178.02" y2="1315.30" stroke="#000" stroke-width="2.6" />
<line x1="1205.53" y1="1308.90" x2="1205.53" y2="1315.30" stroke="#000" stroke-width="2.6" />
<line x1="1225.04" y1="1308.90" x2="1225.04" y2="1315.30" stroke="#000" stroke-width="2.6" />
<line x1="1240.18" y1="1308.90" x2="1240.18" y2="1315.30" stroke="#000" stroke-width="2.6" />
<line x1="1252.55" y1="1308.90" x2="1252.55" y2="1315.30" stroke="#000" stroke-width="2.6" />
<line x1="1263.00" y1="1308.90" x2="1263.00" y2="1315.30" stroke="#000" stroke-width="2.6" />
<line x1="1272.06" y1="1308.90" x2="1272.06" y2="1315.30" stroke="#000" stroke-width="2.6" />
<line x1="1280.05" y1="1308.90" x2="1280.05" y2="1315.30" stroke="#000" stroke-width="2.6" />
<line x1="1287.20" y1="1308.90" x2="1287.20" y2="1319.50" stroke="#000" stroke-width="3.5" />
<line x1="1334.22" y1="1308.90" x2="1334.22" y2="1315.30" stroke="#000" stroke-width="2.6" />
<line x1="1361.73" y1="1308.90" x2="1361.73" y2="1315.30" stroke="#000" stroke-width="2.6" />
<line x1="1381.24" y1="1308.90" x2="1381.24" y2="1315.30" stroke="#000" stroke-width="2.6" />
<line x1="1396.38" y1="1308.90" x2="1396.38" y2="1315.30" stroke="#000" stroke-width="2.6" />
<line x1="1408.75" y1="1308.90" x2="1408.75" y2="1315.30" stroke="#000" stroke-width="2.6" />
<line x1="1419.20" y1="1308.90" x2="1419.20" y2="1315.30" stroke="#000" stroke-width="2.6" />
<line x1="1428.26" y1="1308.90" x2="1428.26" y2="1315.30" stroke="#000" stroke-width="2.6" />
<line x1="1436.25" y1="1308.90" x2="1436.25" y2="1315.30" stroke="#000" stroke-width="2.6" />
<line x1="1443.40" y1="1308.90" x2="1443.40" y2="1319.50" stroke="#000" stroke-width="3.5" />
<polyline points="974.80,1128.20 1049.33,1101.20 1131.00,1080.00 1205.53,1068.30 1287.20,1047.70 1361.73,1036.80" fill="none" stroke="#000" stroke-width="3.6" stroke-linejoin="round" stroke-dasharray="12.5 4.9"/>
<line x1="974.80" y1="1115.60" x2="974.80" y2="1142.20" stroke="#000" stroke-width="3.6" />
<line x1="967.45" y1="1115.60" x2="982.15" y2="1115.60" stroke="#000" stroke-width="4.3" stroke-linecap="round"/>
<line x1="967.45" y1="1142.20" x2="982.15" y2="1142.20" stroke="#000" stroke-width="4.3" stroke-linecap="round"/>
<line x1="1131.00" y1="1067.00" x2="1131.00" y2="1093.60" stroke="#000" stroke-width="3.6" />
<line x1="1123.65" y1="1067.00" x2="1138.35" y2="1067.00" stroke="#000" stroke-width="4.3" stroke-linecap="round"/>
<line x1="1123.65" y1="1093.60" x2="1138.35" y2="1093.60" stroke="#000" stroke-width="4.3" stroke-linecap="round"/>
<line x1="1361.73" y1="1029.50" x2="1361.73" y2="1044.40" stroke="#000" stroke-width="3.6" />
<line x1="1354.38" y1="1029.50" x2="1369.08" y2="1029.50" stroke="#000" stroke-width="4.3" stroke-linecap="round"/>
<line x1="1354.38" y1="1044.40" x2="1369.08" y2="1044.40" stroke="#000" stroke-width="4.3" stroke-linecap="round"/>
<rect x="968.30" y="1121.70" width="13.0" height="13.0" fill="#000"/>
<rect x="1042.83" y="1094.70" width="13.0" height="13.0" fill="#000"/>
<rect x="1124.50" y="1073.50" width="13.0" height="13.0" fill="#000"/>
<rect x="1199.03" y="1061.80" width="13.0" height="13.0" fill="#000"/>
<rect x="1280.70" y="1041.20" width="13.0" height="13.0" fill="#000"/>
<rect x="1355.23" y="1030.30" width="13.0" height="13.0" fill="#000"/>
<polyline points="974.80,1146.00 1049.33,1138.50 1131.00,1137.50 1205.53,1140.70 1287.20,1126.40 1361.73,1109.20" fill="none" stroke="#000" stroke-width="3.6" stroke-linejoin="round" />
<line x1="1131.00" y1="1129.60" x2="1131.00" y2="1146.40" stroke="#000" stroke-width="3.6" />
<line x1="1123.65" y1="1129.60" x2="1138.35" y2="1129.60" stroke="#000" stroke-width="4.3" stroke-linecap="round"/>
<line x1="1123.65" y1="1146.40" x2="1138.35" y2="1146.40" stroke="#000" stroke-width="4.3" stroke-linecap="round"/>
<line x1="1205.53" y1="1132.40" x2="1205.53" y2="1149.00" stroke="#000" stroke-width="3.6" />
<line x1="1198.18" y1="1132.40" x2="1212.88" y2="1132.40" stroke="#000" stroke-width="4.3" stroke-linecap="round"/>
<line x1="1198.18" y1="1149.00" x2="1212.88" y2="1149.00" stroke="#000" stroke-width="4.3" stroke-linecap="round"/>
<line x1="1287.20" y1="1119.80" x2="1287.20" y2="1135.70" stroke="#000" stroke-width="3.6" />
<line x1="1279.85" y1="1119.80" x2="1294.55" y2="1119.80" stroke="#000" stroke-width="4.3" stroke-linecap="round"/>
<line x1="1279.85" y1="1135.70" x2="1294.55" y2="1135.70" stroke="#000" stroke-width="4.3" stroke-linecap="round"/>
<line x1="1361.73" y1="1101.90" x2="1361.73" y2="1115.80" stroke="#000" stroke-width="3.6" />
<line x1="1354.38" y1="1101.90" x2="1369.08" y2="1101.90" stroke="#000" stroke-width="4.3" stroke-linecap="round"/>
<line x1="1354.38" y1="1115.80" x2="1369.08" y2="1115.80" stroke="#000" stroke-width="4.3" stroke-linecap="round"/>
<polygon points="967.55,1139.25 982.05,1139.25 974.80,1152.75" fill="#000"/>
<polygon points="1042.08,1131.75 1056.58,1131.75 1049.33,1145.25" fill="#000"/>
<polygon points="1123.75,1130.75 1138.25,1130.75 1131.00,1144.25" fill="#000"/>
<polygon points="1198.28,1133.95 1212.78,1133.95 1205.53,1147.45" fill="#000"/>
<polygon points="1279.95,1119.65 1294.45,1119.65 1287.20,1133.15" fill="#000"/>
<polygon points="1354.48,1102.45 1368.98,1102.45 1361.73,1115.95" fill="#000"/>
<line x1="927.60" y1="1060.90" x2="1450.50" y2="1060.90" stroke="#e2301f" stroke-width="3.5" stroke-linecap="round" stroke-dasharray="10.2 7.3"/>
<line x1="927.60" y1="1144.40" x2="1450.50" y2="1144.40" stroke="#e2301f" stroke-width="3.5" stroke-linecap="round" stroke-dasharray="10.2 7.3"/>
<line x1="1437.90" y1="931.50" x2="1455.40" y2="931.50" stroke="#000" stroke-width="3.6" stroke-linecap="round"/>
<line x1="1455.40" y1="931.50" x2="1465.90" y2="931.50" stroke="#000" stroke-width="3.6" stroke-linecap="round"/>
<line x1="1470.80" y1="931.50" x2="1473.50" y2="931.50" stroke="#000" stroke-width="3.6" stroke-linecap="round"/>
<rect x="1448.90" y="925.00" width="13.0" height="13.0" fill="#000"/>
<line x1="1437.90" y1="979.60" x2="1473.50" y2="979.60" stroke="#000" stroke-width="3.6" stroke-linecap="round"/>
<polygon points="1448.15,972.85 1462.65,972.85 1455.40,986.35" fill="#000"/>
<line x1="111.20" y1="1551.15" x2="111.20" y2="1893.85" stroke="#000" stroke-width="3.5" />
<line x1="101.20" y1="1892.10" x2="111.20" y2="1892.10" stroke="#000" stroke-width="3.5" />
<line x1="101.20" y1="1835.57" x2="111.20" y2="1835.57" stroke="#000" stroke-width="3.5" />
<line x1="101.20" y1="1779.03" x2="111.20" y2="1779.03" stroke="#000" stroke-width="3.5" />
<line x1="101.20" y1="1722.50" x2="111.20" y2="1722.50" stroke="#000" stroke-width="3.5" />
<line x1="101.20" y1="1665.96" x2="111.20" y2="1665.96" stroke="#000" stroke-width="3.5" />
<line x1="101.20" y1="1609.43" x2="111.20" y2="1609.43" stroke="#000" stroke-width="3.5" />
<line x1="101.20" y1="1552.90" x2="111.20" y2="1552.90" stroke="#000" stroke-width="3.5" />
<line x1="101.00" y1="1893.00" x2="627.60" y2="1893.00" stroke="#000" stroke-width="3.5" />
<line x1="110.54" y1="1893.00" x2="110.54" y2="1898.80" stroke="#000" stroke-width="2.6" />
<line x1="122.89" y1="1893.00" x2="122.89" y2="1898.80" stroke="#000" stroke-width="2.6" />
<line x1="133.34" y1="1893.00" x2="133.34" y2="1898.80" stroke="#000" stroke-width="2.6" />
<line x1="142.38" y1="1893.00" x2="142.38" y2="1898.80" stroke="#000" stroke-width="2.6" />
<line x1="150.36" y1="1893.00" x2="150.36" y2="1898.80" stroke="#000" stroke-width="2.6" />
<line x1="157.50" y1="1893.00" x2="157.50" y2="1903.30" stroke="#000" stroke-width="3.5" />
<line x1="204.46" y1="1893.00" x2="204.46" y2="1898.80" stroke="#000" stroke-width="2.6" />
<line x1="231.93" y1="1893.00" x2="231.93" y2="1898.80" stroke="#000" stroke-width="2.6" />
<line x1="251.42" y1="1893.00" x2="251.42" y2="1898.80" stroke="#000" stroke-width="2.6" />
<line x1="266.54" y1="1893.00" x2="266.54" y2="1898.80" stroke="#000" stroke-width="2.6" />
<line x1="278.89" y1="1893.00" x2="278.89" y2="1898.80" stroke="#000" stroke-width="2.6" />
<line x1="289.34" y1="1893.00" x2="289.34" y2="1898.80" stroke="#000" stroke-width="2.6" />
<line x1="298.38" y1="1893.00" x2="298.38" y2="1898.80" stroke="#000" stroke-width="2.6" />
<line x1="306.36" y1="1893.00" x2="306.36" y2="1898.80" stroke="#000" stroke-width="2.6" />
<line x1="313.50" y1="1893.00" x2="313.50" y2="1903.30" stroke="#000" stroke-width="3.5" />
<line x1="360.46" y1="1893.00" x2="360.46" y2="1898.80" stroke="#000" stroke-width="2.6" />
<line x1="387.93" y1="1893.00" x2="387.93" y2="1898.80" stroke="#000" stroke-width="2.6" />
<line x1="407.42" y1="1893.00" x2="407.42" y2="1898.80" stroke="#000" stroke-width="2.6" />
<line x1="422.54" y1="1893.00" x2="422.54" y2="1898.80" stroke="#000" stroke-width="2.6" />
<line x1="434.89" y1="1893.00" x2="434.89" y2="1898.80" stroke="#000" stroke-width="2.6" />
<line x1="445.34" y1="1893.00" x2="445.34" y2="1898.80" stroke="#000" stroke-width="2.6" />
<line x1="454.38" y1="1893.00" x2="454.38" y2="1898.80" stroke="#000" stroke-width="2.6" />
<line x1="462.36" y1="1893.00" x2="462.36" y2="1898.80" stroke="#000" stroke-width="2.6" />
<line x1="469.50" y1="1893.00" x2="469.50" y2="1903.30" stroke="#000" stroke-width="3.5" />
<line x1="516.46" y1="1893.00" x2="516.46" y2="1898.80" stroke="#000" stroke-width="2.6" />
<line x1="543.93" y1="1893.00" x2="543.93" y2="1898.80" stroke="#000" stroke-width="2.6" />
<line x1="563.42" y1="1893.00" x2="563.42" y2="1898.80" stroke="#000" stroke-width="2.6" />
<line x1="578.54" y1="1893.00" x2="578.54" y2="1898.80" stroke="#000" stroke-width="2.6" />
<line x1="590.89" y1="1893.00" x2="590.89" y2="1898.80" stroke="#000" stroke-width="2.6" />
<line x1="601.34" y1="1893.00" x2="601.34" y2="1898.80" stroke="#000" stroke-width="2.6" />
<line x1="610.38" y1="1893.00" x2="610.38" y2="1898.80" stroke="#000" stroke-width="2.6" />
<line x1="618.36" y1="1893.00" x2="618.36" y2="1898.80" stroke="#000" stroke-width="2.6" />
<line x1="625.50" y1="1893.00" x2="625.50" y2="1903.30" stroke="#000" stroke-width="3.5" />
<polyline points="157.50,1720.90 231.93,1719.50 313.50,1718.80 387.93,1685.40 469.50,1636.80 543.93,1610.40" fill="none" stroke="#000" stroke-width="3.6" stroke-linejoin="round" stroke-dasharray="12.5 4.9"/>
<line x1="157.50" y1="1709.00" x2="157.50" y2="1731.80" stroke="#000" stroke-width="3.6" />
<line x1="150.15" y1="1709.00" x2="164.85" y2="1709.00" stroke="#000" stroke-width="4.3" stroke-linecap="round"/>
<line x1="150.15" y1="1731.80" x2="164.85" y2="1731.80" stroke="#000" stroke-width="4.3" stroke-linecap="round"/>
<line x1="231.93" y1="1702.00" x2="231.93" y2="1731.00" stroke="#000" stroke-width="3.6" />
<line x1="224.58" y1="1702.00" x2="239.28" y2="1702.00" stroke="#000" stroke-width="4.3" stroke-linecap="round"/>
<line x1="224.58" y1="1731.00" x2="239.28" y2="1731.00" stroke="#000" stroke-width="4.3" stroke-linecap="round"/>
<line x1="387.93" y1="1679.30" x2="387.93" y2="1692.30" stroke="#000" stroke-width="3.6" />
<line x1="380.58" y1="1679.30" x2="395.28" y2="1679.30" stroke="#000" stroke-width="4.3" stroke-linecap="round"/>
<line x1="380.58" y1="1692.30" x2="395.28" y2="1692.30" stroke="#000" stroke-width="4.3" stroke-linecap="round"/>
<line x1="469.50" y1="1628.30" x2="469.50" y2="1645.30" stroke="#000" stroke-width="3.6" />
<line x1="462.15" y1="1628.30" x2="476.85" y2="1628.30" stroke="#000" stroke-width="4.3" stroke-linecap="round"/>
<line x1="462.15" y1="1645.30" x2="476.85" y2="1645.30" stroke="#000" stroke-width="4.3" stroke-linecap="round"/>
<line x1="543.93" y1="1601.90" x2="543.93" y2="1618.00" stroke="#000" stroke-width="3.6" />
<line x1="536.58" y1="1601.90" x2="551.28" y2="1601.90" stroke="#000" stroke-width="4.3" stroke-linecap="round"/>
<line x1="536.58" y1="1618.00" x2="551.28" y2="1618.00" stroke="#000" stroke-width="4.3" stroke-linecap="round"/>
<rect x="151.00" y="1714.40" width="13.0" height="13.0" fill="#000"/>
<rect x="225.43" y="1713.00" width="13.0" height="13.0" fill="#000"/>
<rect x="307.00" y="1712.30" width="13.0" height="13.0" fill="#000"/>
<rect x="381.43" y="1678.90" width="13.0" height="13.0" fill="#000"/>
<rect x="463.00" y="1630.30" width="13.0" height="13.0" fill="#000"/>
<rect x="537.43" y="1603.90" width="13.0" height="13.0" fill="#000"/>
<polyline points="157.50,1723.30 231.93,1710.30 313.50,1742.10 387.93,1741.50 469.50,1730.00 543.93,1737.00" fill="none" stroke="#000" stroke-width="3.6" stroke-linejoin="round" />
<line x1="543.93" y1="1722.70" x2="543.93" y2="1751.50" stroke="#000" stroke-width="3.6" />
<line x1="536.58" y1="1722.70" x2="551.28" y2="1722.70" stroke="#000" stroke-width="4.3" stroke-linecap="round"/>
<line x1="536.58" y1="1751.50" x2="551.28" y2="1751.50" stroke="#000" stroke-width="4.3" stroke-linecap="round"/>
<circle cx="157.50" cy="1723.30" r="6.6" fill="#000"/>
<circle cx="231.93" cy="1710.30" r="6.6" fill="#000"/>
<circle cx="313.50" cy="1742.10" r="6.6" fill="#000"/>
<circle cx="387.93" cy="1741.50" r="6.6" fill="#000"/>
<circle cx="469.50" cy="1730.00" r="6.6" fill="#000"/>
<circle cx="543.93" cy="1737.00" r="6.6" fill="#000"/>
<line x1="111.20" y1="1608.90" x2="630.00" y2="1608.90" stroke="#e2301f" stroke-width="3.5" stroke-linecap="round" stroke-dasharray="10.2 7.3"/>
<line x1="111.20" y1="1727.90" x2="630.00" y2="1727.90" stroke="#e2301f" stroke-width="3.5" stroke-linecap="round" stroke-dasharray="10.2 7.3"/>
<line x1="566.40" y1="1461.90" x2="588.60" y2="1461.90" stroke="#000" stroke-width="3.6" stroke-linecap="round"/>
<line x1="588.60" y1="1461.90" x2="599.10" y2="1461.90" stroke="#000" stroke-width="3.6" stroke-linecap="round"/>
<line x1="608.00" y1="1461.90" x2="610.70" y2="1461.90" stroke="#000" stroke-width="3.6" stroke-linecap="round"/>
<rect x="582.10" y="1455.40" width="13.0" height="13.0" fill="#000"/>
<line x1="563.30" y1="1508.00" x2="607.40" y2="1508.00" stroke="#000" stroke-width="3.6" stroke-linecap="round"/>
<circle cx="585.20" cy="1508.00" r="6.6" fill="#000"/>
<line x1="927.00" y1="1545.45" x2="927.00" y2="1892.95" stroke="#000" stroke-width="3.5" />
<line x1="917.50" y1="1891.20" x2="927.00" y2="1891.20" stroke="#000" stroke-width="3.5" />
<line x1="917.50" y1="1822.40" x2="927.00" y2="1822.40" stroke="#000" stroke-width="3.5" />
<line x1="917.50" y1="1753.60" x2="927.00" y2="1753.60" stroke="#000" stroke-width="3.5" />
<line x1="917.50" y1="1684.80" x2="927.00" y2="1684.80" stroke="#000" stroke-width="3.5" />
<line x1="917.50" y1="1616.00" x2="927.00" y2="1616.00" stroke="#000" stroke-width="3.5" />
<line x1="917.50" y1="1547.20" x2="927.00" y2="1547.20" stroke="#000" stroke-width="3.5" />
<line x1="917.50" y1="1891.40" x2="1436.60" y2="1891.40" stroke="#000" stroke-width="3.5" />
<line x1="977.90" y1="1891.40" x2="977.90" y2="1901.50" stroke="#000" stroke-width="3.5" />
<line x1="1079.70" y1="1891.40" x2="1079.70" y2="1901.50" stroke="#000" stroke-width="3.5" />
<line x1="1181.50" y1="1891.40" x2="1181.50" y2="1901.50" stroke="#000" stroke-width="3.5" />
<line x1="1283.60" y1="1891.40" x2="1283.60" y2="1901.50" stroke="#000" stroke-width="3.5" />
<line x1="1385.20" y1="1891.40" x2="1385.20" y2="1901.50" stroke="#000" stroke-width="3.5" />
<polyline points="977.90,1597.90 1079.70,1651.20 1181.50,1702.90 1283.60,1761.60 1385.20,1809.70" fill="none" stroke="#000" stroke-width="3.6" stroke-linejoin="round" stroke-dasharray="12.5 4.9"/>
<line x1="977.90" y1="1588.90" x2="977.90" y2="1607.40" stroke="#000" stroke-width="3.6" />
<line x1="970.55" y1="1588.90" x2="985.25" y2="1588.90" stroke="#000" stroke-width="4.3" stroke-linecap="round"/>
<line x1="970.55" y1="1607.40" x2="985.25" y2="1607.40" stroke="#000" stroke-width="4.3" stroke-linecap="round"/>
<line x1="1181.50" y1="1693.40" x2="1181.50" y2="1711.50" stroke="#000" stroke-width="3.6" />
<line x1="1174.15" y1="1693.40" x2="1188.85" y2="1693.40" stroke="#000" stroke-width="4.3" stroke-linecap="round"/>
<line x1="1174.15" y1="1711.50" x2="1188.85" y2="1711.50" stroke="#000" stroke-width="4.3" stroke-linecap="round"/>
<line x1="1385.20" y1="1802.00" x2="1385.20" y2="1817.00" stroke="#000" stroke-width="3.6" />
<line x1="1377.85" y1="1802.00" x2="1392.55" y2="1802.00" stroke="#000" stroke-width="4.3" stroke-linecap="round"/>
<line x1="1377.85" y1="1817.00" x2="1392.55" y2="1817.00" stroke="#000" stroke-width="4.3" stroke-linecap="round"/>
<circle cx="977.90" cy="1597.90" r="6.6" fill="#000"/>
<circle cx="1079.70" cy="1651.20" r="6.6" fill="#000"/>
<circle cx="1181.50" cy="1702.90" r="6.6" fill="#000"/>
<circle cx="1283.60" cy="1761.60" r="6.6" fill="#000"/>
<circle cx="1385.20" cy="1809.70" r="6.6" fill="#000"/>
<polyline points="977.90,1583.00 1079.70,1622.40 1181.50,1686.30 1283.60,1770.40 1385.20,1809.70" fill="none" stroke="#000" stroke-width="3.6" stroke-linejoin="round" />
<line x1="1079.70" y1="1616.80" x2="1079.70" y2="1631.80" stroke="#000" stroke-width="3.6" />
<line x1="1072.35" y1="1616.80" x2="1087.05" y2="1616.80" stroke="#000" stroke-width="4.3" stroke-linecap="round"/>
<line x1="1072.35" y1="1631.80" x2="1087.05" y2="1631.80" stroke="#000" stroke-width="4.3" stroke-linecap="round"/>
<polygon points="970.65,1576.25 985.15,1576.25 977.90,1589.75" fill="#000"/>
<polygon points="1072.45,1615.65 1086.95,1615.65 1079.70,1629.15" fill="#000"/>
<polygon points="1174.25,1679.55 1188.75,1679.55 1181.50,1693.05" fill="#000"/>
<polygon points="1276.35,1763.65 1290.85,1763.65 1283.60,1777.15" fill="#000"/>
<polygon points="1377.95,1802.95 1392.45,1802.95 1385.20,1816.45" fill="#000"/>
<line x1="922.20" y1="1548.70" x2="1438.80" y2="1548.70" stroke="#e2301f" stroke-width="3.5" stroke-linecap="round" stroke-dasharray="10.2 7.3"/>
<line x1="1443.90" y1="1490.80" x2="1461.00" y2="1490.80" stroke="#000" stroke-width="3.6" stroke-linecap="round"/>
<line x1="1461.00" y1="1490.80" x2="1469.70" y2="1490.80" stroke="#000" stroke-width="3.6" stroke-linecap="round"/>
<line x1="1475.80" y1="1490.80" x2="1478.50" y2="1490.80" stroke="#000" stroke-width="3.6" stroke-linecap="round"/>
<circle cx="1461.00" cy="1490.80" r="4.7" fill="#000"/>
<line x1="1443.90" y1="1528.70" x2="1478.50" y2="1528.70" stroke="#000" stroke-width="3.6" stroke-linecap="round"/>
<polygon points="1456.00,1524.20 1466.00,1524.20 1461.00,1533.20" fill="#000"/>
<text x="1.20" y="39.60" font-size="53" fill="#151515">A</text>
<text x="814.96" y="39.50" font-size="53" fill="#151515">B</text>
<text x="1.25" y="463.90" font-size="53" fill="#151515">C</text>
<text x="809.66" y="461.10" font-size="53" fill="#151515">D</text>
<text transform="translate(2.77,897.20) scale(0.95,1)" font-size="53" fill="#151515">E</text>
<text x="816.96" y="897.30" font-size="53" fill="#151515">F</text>
<text x="-0.45" y="1483.40" font-size="53" fill="#151515">G</text>
<text transform="translate(808.69,1482.80) scale(0.97,1)" font-size="53" fill="#151515">H</text>
<text x="425.10" y="57.40" font-size="27.5" fill="#151515">RAG-1</text>
<text x="512.45" y="48.40" font-size="16.3" fill="#151515">-/-</text>
<text x="532.83" y="57.40" font-size="27.4" fill="#151515">Chimera</text>
<text transform="translate(77.28,109.00) scale(1.08,1)" font-size="26.3" fill="#151515">Control</text>
<text x="329.00" y="109.00" font-size="27.9" fill="#151515">ADAM17</text>
<text x="440.83" y="100.50" font-size="16.5" fill="#151515">WT</text>
<text x="566.90" y="109.00" font-size="27.9" fill="#151515">ADAM17</text>
<text x="677.80" y="100.50" font-size="16.5" fill="#151515">ΔZn/ΔZn</text>
<text transform="translate(77.28,468.60) scale(1.08,1)" font-size="26.3" fill="#151515">Control</text>
<text transform="translate(326.62,468.60) scale(1.1,1)" font-size="27.1" fill="#151515">B6</text>
<text transform="translate(575.76,468.60) scale(1.03,1)" font-size="27.2" fill="#151515">LΔP</text>
<text transform="translate(17.31,404.00) scale(1.07,1)" font-size="25.9" fill="#151515">CD62L</text>
<text transform="translate(16.81,766.00) scale(1.07,1)" font-size="25.9" fill="#151515">CD62L</text>
<text transform="translate(1156.64,66.40) scale(0.905,1)" font-size="28.4" fill="#151515">RAG-1</text>
<text x="1237.84" y="56.60" font-size="16.5" fill="#151515">-/-</text>
<text transform="translate(1257.59,66.40) scale(0.92,1)" font-size="28.4" fill="#151515">Chimera</text>
<text transform="translate(1025.00,114.30) scale(0.93,1)" font-size="28.4" fill="#151515">ADAM17</text>
<text transform="translate(1130.55,105.50) scale(0.91,1)" font-size="17.0" fill="#151515">WT</text>
<text transform="translate(1418.60,114.70) scale(0.93,1)" font-size="28.4" fill="#151515">ADAM17</text>
<text transform="translate(1525.54,106.50) scale(0.91,1)" font-size="17.0" fill="#151515">ΔZn/ΔZn</text>
<text transform="translate(925.71,359.88) scale(0.975,1)" font-size="27.0" fill="#151515">0</text>
<text transform="translate(896.49,323.28) scale(0.975,1)" font-size="27.0" fill="#151515">200</text>
<text transform="translate(896.49,281.88) scale(0.975,1)" font-size="27.0" fill="#151515">400</text>
<text transform="translate(896.49,244.89) scale(0.975,1)" font-size="27.0" fill="#151515">600</text>
<text transform="translate(896.49,204.59) scale(0.975,1)" font-size="27.0" fill="#151515">800</text>
<text transform="translate(882.01,162.09) scale(0.975,1)" font-size="27.0" fill="#151515">1000</text>
<text transform="translate(1006.33,396.80) scale(0.915,1)" font-size="29.2" fill="#151515">Vβ8-</text>
<text transform="translate(1140.63,396.80) scale(0.915,1)" font-size="29.2" fill="#151515">Vβ8+</text>
<text transform="translate(875.80,331.82) rotate(-90)" font-size="28.4" fill="#151515">CD62L MFI</text>
<text x="1081.90" y="166.00" font-size="30" font-weight="bold" fill="#151515">*</text>
<text transform="translate(1330.61,364.08) scale(0.975,1)" font-size="27.0" fill="#151515">0</text>
<text transform="translate(1301.39,324.08) scale(0.975,1)" font-size="27.0" fill="#151515">200</text>
<text transform="translate(1301.39,284.19) scale(0.975,1)" font-size="27.0" fill="#151515">400</text>
<text transform="translate(1301.39,245.39) scale(0.975,1)" font-size="27.0" fill="#151515">600</text>
<text transform="translate(1301.39,205.78) scale(0.975,1)" font-size="27.0" fill="#151515">800</text>
<text transform="translate(1286.91,166.99) scale(0.975,1)" font-size="27.0" fill="#151515">1000</text>
<text transform="translate(1418.33,395.50) scale(0.915,1)" font-size="29.2" fill="#151515">Vβ8-</text>
<text transform="translate(1535.33,399.00) scale(0.915,1)" font-size="29.2" fill="#151515">Vβ8+</text>
<text transform="translate(1280.40,318.05) rotate(-90)" font-size="29.0" fill="#151515">CD62L MFI</text>
<text transform="translate(1070.67,497.00) scale(0.92,1)" font-size="29.0" fill="#151515">B6</text>
<text transform="translate(926.11,764.79) scale(0.975,1)" font-size="27.0" fill="#151515">0</text>
<text transform="translate(896.89,695.88) scale(0.975,1)" font-size="27.0" fill="#151515">500</text>
<text transform="translate(882.41,627.69) scale(0.975,1)" font-size="27.0" fill="#151515">1000</text>
<text transform="translate(882.41,561.79) scale(0.975,1)" font-size="27.0" fill="#151515">1500</text>
<text transform="translate(1006.03,801.20) scale(0.915,1)" font-size="29.2" fill="#151515">Vβ8-</text>
<text transform="translate(1140.73,801.20) scale(0.915,1)" font-size="29.2" fill="#151515">Vβ8+</text>
<text transform="translate(875.80,720.96) rotate(-90)" font-size="29.2" fill="#151515">CD62L MFI</text>
<text x="1071.10" y="539.00" font-size="29.5" font-weight="bold" fill="#151515">***</text>
<text transform="translate(1475.27,497.00) scale(0.92,1)" font-size="29.0" fill="#151515">LΔP</text>
<text transform="translate(1329.41,760.88) scale(0.975,1)" font-size="27.0" fill="#151515">0</text>
<text transform="translate(1289.71,693.69) scale(0.975,1)" font-size="27.0" fill="#151515">1000</text>
<text transform="translate(1285.71,625.69) scale(0.975,1)" font-size="27.0" fill="#151515">2000</text>
<text transform="translate(1285.11,560.29) scale(0.975,1)" font-size="27.0" fill="#151515">3000</text>
<text transform="translate(1422.73,798.70) scale(0.915,1)" font-size="29.2" fill="#151515">Vβ8-</text>
<text transform="translate(1541.43,799.00) scale(0.915,1)" font-size="29.2" fill="#151515">Vβ8+</text>
<text transform="translate(1276.30,704.74) rotate(-90)" font-size="28.8" fill="#151515">CD62L MFI</text>
<text x="32.04" y="979.62" font-size="34.7" fill="#151515">120</text>
<text x="32.04" y="1033.92" font-size="34.7" fill="#151515">100</text>
<text x="51.47" y="1091.02" font-size="34.7" fill="#151515">80</text>
<text x="51.47" y="1149.12" font-size="34.7" fill="#151515">60</text>
<text x="51.47" y="1204.12" font-size="34.7" fill="#151515">40</text>
<text x="51.47" y="1262.62" font-size="34.7" fill="#151515">20</text>
<text x="70.56" y="1320.32" font-size="34.7" fill="#151515">0</text>
<text x="139.32" y="1356.20" font-size="34.5" fill="#151515">-9</text>
<text x="225.65" y="1356.20" font-size="34.5" fill="#151515">-8</text>
<text x="312.82" y="1356.20" font-size="34.5" fill="#151515">-7</text>
<text x="395.92" y="1356.20" font-size="34.5" fill="#151515">-6</text>
<text x="485.65" y="1356.20" font-size="34.5" fill="#151515">-5</text>
<text x="568.08" y="1356.20" font-size="34.5" fill="#151515">-4</text>
<text x="311.78" y="1393.70" font-size="35.2" fill="#151515">Peptide [log M]</text>
<text transform="translate(34.80,1209.71) rotate(-90)" font-size="35.2" fill="#151515">% CD62L</text>
<text x="632.68" y="940.10" font-size="35.2" fill="#151515">L-selectin</text>
<text x="634.44" y="979.30" font-size="35.2" fill="#151515">ΔM-N</text>
<text x="853.38" y="977.07" font-size="34.0" fill="#151515">140</text>
<text x="853.38" y="1025.87" font-size="34.0" fill="#151515">120</text>
<text x="853.38" y="1074.67" font-size="34.0" fill="#151515">100</text>
<text x="872.42" y="1123.47" font-size="34.0" fill="#151515">80</text>
<text x="872.42" y="1172.27" font-size="34.0" fill="#151515">60</text>
<text x="872.42" y="1221.07" font-size="34.0" fill="#151515">40</text>
<text x="872.42" y="1269.87" font-size="34.0" fill="#151515">20</text>
<text x="891.12" y="1318.67" font-size="34.0" fill="#151515">0</text>
<text x="960.53" y="1356.30" font-size="34.3" fill="#151515">0.1</text>
<text x="1127.66" y="1356.30" font-size="34.3" fill="#151515">1</text>
<text x="1278.26" y="1356.30" font-size="34.3" fill="#151515">10</text>
<text x="1425.96" y="1356.30" font-size="34.3" fill="#151515">100</text>
<text x="1123.43" y="1394.90" font-size="35.2" fill="#151515">Inhibitor [μM]</text>
<text transform="translate(845.60,1209.41) rotate(-90)" font-size="35.2" fill="#151515">% CD62L</text>
<text x="1508.44" y="939.80" font-size="35.2" fill="#151515">GW</text>
<text x="1511.04" y="979.20" font-size="35.2" fill="#151515">GI</text>
<text x="39.59" y="1562.89" font-size="33.5" fill="#151515">120</text>
<text x="39.59" y="1621.19" font-size="33.5" fill="#151515">100</text>
<text x="58.36" y="1676.09" font-size="33.5" fill="#151515">80</text>
<text x="58.36" y="1732.99" font-size="33.5" fill="#151515">60</text>
<text x="58.36" y="1789.29" font-size="33.5" fill="#151515">40</text>
<text x="58.36" y="1845.79" font-size="33.5" fill="#151515">20</text>
<text x="76.78" y="1901.19" font-size="33.5" fill="#151515">0</text>
<text x="156.50" y="1935.80" font-size="33.8" fill="#151515">1</text>
<text x="302.30" y="1935.80" font-size="33.8" fill="#151515">10</text>
<text x="446.10" y="1935.80" font-size="33.8" fill="#151515">100</text>
<text x="593.70" y="1935.80" font-size="33.8" fill="#151515">1000</text>
<text x="295.80" y="1973.70" font-size="34.7" fill="#151515">Antibody [nM]</text>
<text transform="translate(34.60,1785.01) rotate(-90)" font-size="35.2" fill="#151515">% CD62L</text>
<text x="633.68" y="1476.40" font-size="35.2" fill="#151515">D1 (A12)</text>
<text x="634.76" y="1521.00" font-size="34.7" fill="#151515">Control IgG</text>
<text x="855.89" y="1562.89" font-size="33.5" fill="#151515">100</text>
<text x="874.65" y="1630.19" font-size="33.5" fill="#151515">80</text>
<text x="874.65" y="1698.59" font-size="33.5" fill="#151515">60</text>
<text x="874.65" y="1766.39" font-size="33.5" fill="#151515">40</text>
<text x="874.65" y="1833.89" font-size="33.5" fill="#151515">20</text>
<text x="893.08" y="1903.09" font-size="33.5" fill="#151515">0</text>
<text x="958.54" y="1935.40" font-size="34.0" fill="#151515">-9</text>
<text x="1059.87" y="1935.40" font-size="34.0" fill="#151515">-8</text>
<text x="1161.04" y="1935.40" font-size="34.0" fill="#151515">-7</text>
<text x="1262.04" y="1935.40" font-size="34.0" fill="#151515">-6</text>
<text x="1366.37" y="1935.40" font-size="34.0" fill="#151515">-5</text>
<text x="1059.48" y="1974.80" font-size="35.2" fill="#151515">Peptide [log M]</text>
<text transform="translate(846.00,1763.91) rotate(-90)" font-size="35.2" fill="#151515">% TCR</text>
<text x="1495.74" y="1508.10" font-size="35.2" fill="#151515">GW</text>
<text x="1495.74" y="1548.00" font-size="35.2" fill="#151515">Control</text>
</svg></body></html>
